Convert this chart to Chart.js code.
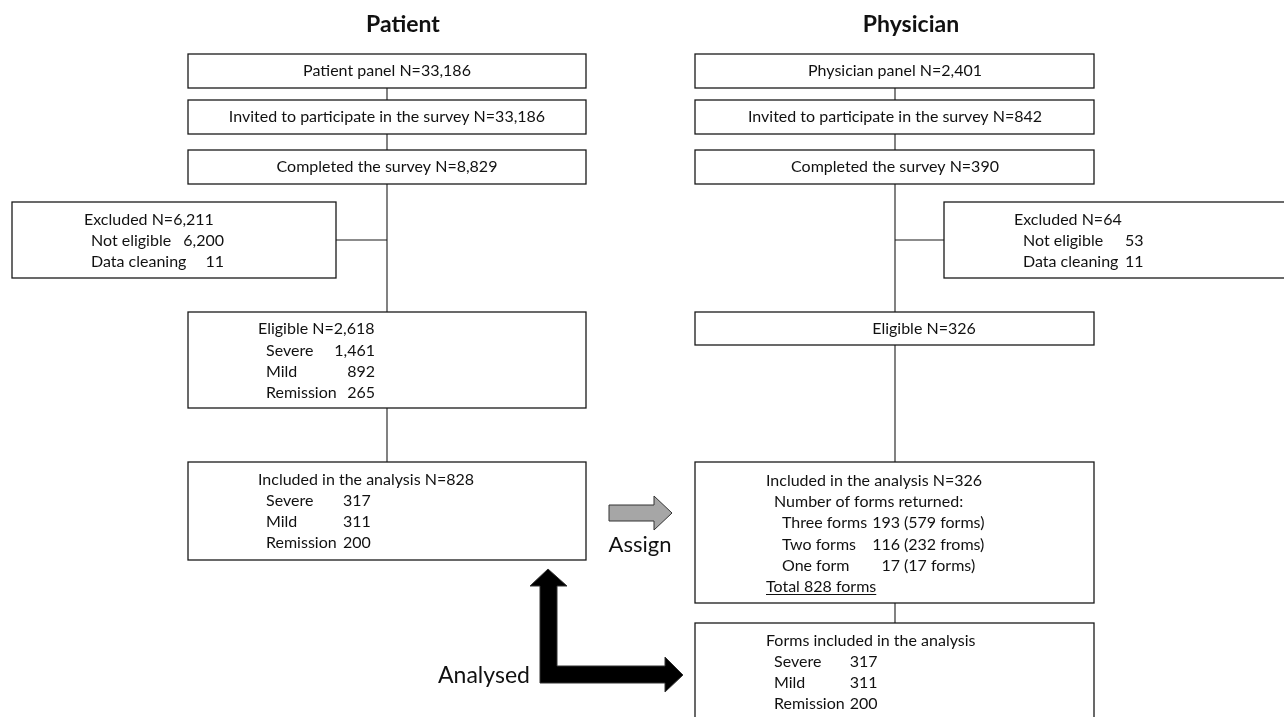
<!DOCTYPE html>
<html>
<head>
<meta charset="utf-8">
<script src="https://cdn.jsdelivr.net/npm/chart.js@4.4.1/dist/chart.umd.min.js"></script>
<style>
html, body { margin: 0; padding: 0; background: #fff; }
#wrap { width: 1284px; height: 717px; }
</style>
</head>
<body>
<div id="wrap"><canvas id="flow"></canvas></div>
<script>
// numbers
var patientStepLabels = ['Patient panel', 'Invited to participate in the survey', 'Completed the survey'];
var patientSteps = [33186, 33186, 8829];
var physicianStepLabels = ['Physician panel', 'Invited to participate in the survey', 'Completed the survey'];
var physicianSteps = [2401, 842, 390];
var excludedLabels = ['Not eligible', 'Data cleaning'];
var patientExcluded = [6200, 11];
var physicianExcluded = [53, 11];
var severityLabels = ['Severe', 'Mild', 'Remission'];
var patientEligible = [1461, 892, 265];
var patientIncluded = [317, 311, 200];
var physicianEligible = 326;
var formLabels = ['Three forms', 'Two forms', 'One form'];
var physiciansByForms = [193, 116, 17];
var formsReturned = [579, 232, 17];
var formsWord = ['forms', 'froms', 'forms'];
var formsAnalysed = [317, 311, 200];

var FONT = 'Lato, "Open Sans", sans-serif';
var TXT = 16;

function fmt(n) { return n.toLocaleString('en-US'); }
function sum(a) { return a.reduce(function(s, v) { return s + v; }, 0); }

// layout of the flow chart, in picture units (x 0..1284, y 0..717 from top)
var stepY = [[54, 88], [100, 134], [150, 184]];
var colL = [188, 586], colR = [695, 1094];
var midL = 387, midR = 895;

var flowPlugin = {
	id: 'flow',
	afterDraw: function(chart) {
		var ctx = chart.ctx;
		var sx = chart.scales.x, sy = chart.scales.y;
		function px(v) { return sx.getPixelForValue(v); }
		function py(v) { return sy.getPixelForValue(v); }

		function rect(x0, y0, x1, y1) {
			ctx.save();
			ctx.strokeStyle = '#1a1a1a';
			ctx.lineWidth = 1.3;
			ctx.strokeRect(px(x0), py(y0), px(x1) - px(x0), py(y1) - py(y0));
			ctx.restore();
		}
		function line(x0, y0, x1, y1) {
			ctx.save();
			ctx.strokeStyle = '#1a1a1a';
			ctx.lineWidth = 1.1;
			ctx.beginPath();
			ctx.moveTo(px(x0), py(y0));
			ctx.lineTo(px(x1), py(y1));
			ctx.stroke();
			ctx.restore();
		}
		function text(s, x, y, align, font, underline) {
			ctx.save();
			ctx.fillStyle = '#111';
			ctx.font = font || (TXT + 'px ' + FONT);
			ctx.textAlign = align || 'left';
			ctx.textBaseline = 'middle';
			ctx.fillText(s, px(x), py(y));
			if (underline) {
				var w = ctx.measureText(s).width;
				ctx.fillRect(px(x), py(y) + 7, w, 1);
			}
			ctx.restore();
		}
		// label list + count column; the column moves right if a label runs long
		function rows(labels, lx, nums, nx, y, step) {
			ctx.save();
			ctx.font = TXT + 'px ' + FONT;
			var widest = Math.max.apply(null, labels.map(function(l) { return ctx.measureText(l).width; }));
			ctx.restore();
			var col = Math.max(nx, sx.getValueForPixel(px(lx) + widest + 5));
			labels.forEach(function(l, k) {
				text(l, lx, y + k * step);
				text(nums[k], col, y + k * step);
			});
		}
		function poly(pts, fill) {
			ctx.save();
			ctx.beginPath();
			pts.forEach(function(p, i) {
				if (i === 0) ctx.moveTo(px(p[0]), py(p[1]));
				else ctx.lineTo(px(p[0]), py(p[1]));
			});
			ctx.closePath();
			ctx.fillStyle = fill;
			ctx.fill();
			ctx.strokeStyle = '#333';
			ctx.lineWidth = 1;
			ctx.stroke();
			ctx.restore();
		}

		// titles
		text('Patient', 403, 25, 'center', 'bold 23px ' + FONT);
		text('Physician', 911, 25, 'center', 'bold 23px ' + FONT);

		// top three steps on both sides
		for (var i = 0; i < 3; i++) {
			var y0 = stepY[i][0], y1 = stepY[i][1];
			rect(colL[0], y0, colL[1], y1);
			rect(colR[0], y0, colR[1], y1);
			text(patientStepLabels[i] + ' N=' + fmt(patientSteps[i]), midL, (y0 + y1) / 2, 'center');
			text(physicianStepLabels[i] + ' N=' + fmt(physicianSteps[i]), midR, (y0 + y1) / 2, 'center');
			if (i < 2) {
				line(midL, y1, midL, stepY[i + 1][0]);
				line(midR, y1, midR, stepY[i + 1][0]);
			}
		}

		// patient side
		line(midL, 184, midL, 312);
		rect(12, 202, 336, 278);
		line(336, 240, midL, 240);
		text('Excluded N=' + fmt(sum(patientExcluded)), 84, 220);
		excludedLabels.forEach(function(l, k) {
			text(l, 91, 241 + k * 21);
			text(fmt(patientExcluded[k]), 224, 241 + k * 21, 'right');
		});

		rect(colL[0], 312, colL[1], 408);
		text('Eligible N=' + fmt(sum(patientEligible)), 258, 329);
		severityLabels.forEach(function(l, k) {
			text(l, 266, 351 + k * 21);
			text(fmt(patientEligible[k]), 375, 351 + k * 21, 'right');
		});
		line(midL, 408, midL, 462);

		rect(colL[0], 462, colL[1], 560);
		text('Included in the analysis N=' + fmt(sum(patientIncluded)), 258, 480);
		rows(severityLabels, 266, patientIncluded.map(fmt), 343, 501, 21);

		// physician side
		line(midR, 184, midR, 312);
		rect(944, 202, 1292, 278);
		line(midR, 240, 944, 240);
		text('Excluded N=' + fmt(sum(physicianExcluded)), 1014, 220);
		rows(excludedLabels, 1023, physicianExcluded.map(fmt), 1125, 241, 21);

		rect(colR[0], 312, colR[1], 345);
		text('Eligible N=' + fmt(physicianEligible), 924, 329, 'center');
		line(midR, 345, midR, 462);

		rect(colR[0], 462, colR[1], 603);
		text('Included in the analysis N=' + fmt(sum(physiciansByForms)), 766, 481);
		text('Number of forms returned:', 774, 502);
		formLabels.forEach(function(l, k) {
			text(l, 782, 523 + k * 21.5);
			text(fmt(physiciansByForms[k]), 900, 523 + k * 21.5, 'right');
			text('(' + fmt(formsReturned[k]) + ' ' + formsWord[k] + ')', 904, 523 + k * 21.5);
		});
		text('Total ' + fmt(sum(formsReturned)) + ' forms', 766, 587, 'left', null, true);
		line(midR, 603, midR, 623);

		rect(colR[0], 623, colR[1], 725);
		text('Forms included in the analysis', 766, 641);
		rows(severityLabels, 774, formsAnalysed.map(fmt), 846, 662, 21);

		// Assign arrow
		poly([[609, 505], [654, 505], [654, 496], [672, 513], [654, 530], [654, 521], [609, 521]], '#a6a6a6');
		text('Assign', 640, 545, 'center', '22px ' + FONT);

		// Analysed double arrow
		poly([[548, 569], [567, 586], [557, 586], [557, 666], [665, 666], [665, 657], [683, 675],
			[665, 692], [665, 683], [540, 683], [540, 586], [530, 586]], '#000');
		text('Analysed', 484, 676, 'center', '23px ' + FONT);
	}
};

new Chart(document.getElementById('flow'), {
	type: 'scatter',
	data: { datasets: [{ data: [], pointRadius: 0 }] },
	options: {
		responsive: true,
		maintainAspectRatio: false,
		animation: false,
		layout: { padding: 0 },
		plugins: { legend: { display: false }, tooltip: { enabled: false } },
		scales: {
			x: { type: 'linear', min: 0, max: 1284, display: false },
			y: { type: 'linear', min: 0, max: 717, reverse: true, display: false }
		}
	},
	plugins: [flowPlugin]
});
</script>
</body>
</html>
